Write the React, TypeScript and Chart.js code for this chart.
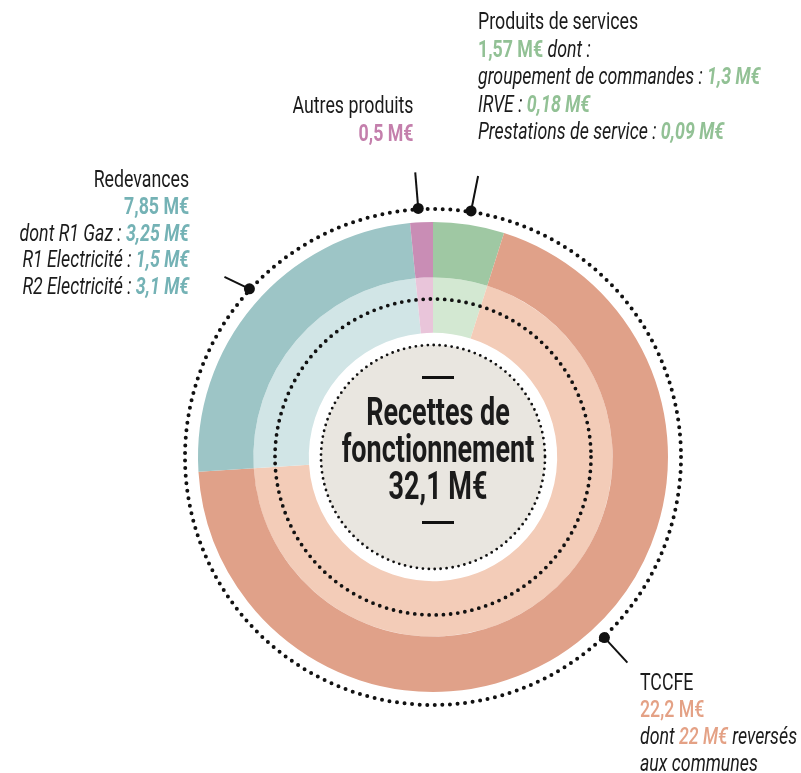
import React, { useEffect, useRef } from "react";
import { Chart, registerables } from "chart.js";

Chart.register(...registerables);

const categories = ["Produits de services", "TCCFE", "Redevances", "Autres produits"];
const values = [1.57, 22.2, 7.85, 0.5];
const outerColors = ["#9fc8a3", "#e0a189", "#9dc5c6", "#c98db5"];
const innerColors = ["#d3e8d2", "#f3ccb8", "#d1e5e6", "#e9c5da"];
// leader annotations: angle (deg clockwise from top) and end offset
const leaderAngles = [8.8, 136.5, 312.5, 356.6];
const leaderEnds = [[7, -35], [23, 25], [-25, -12], [-3, -36]];

const FONT = "Roboto, 'DejaVu Sans', sans-serif";
const SX = 0.74;

const decorPlugin = {
  id: "decor",
  afterDraw(chart: any) {
    const arc = chart.getDatasetMeta(0).data[0];
    if (!arc) return;
    const cx = arc.x;
    const cy = arc.y;
    const R = arc.outerRadius;
    const ctx = chart.ctx;
    ctx.save();
    const dotted = (r: number, w: number, gap: number) => {
      ctx.beginPath();
      ctx.setLineDash([0, gap]);
      ctx.lineCap = "round";
      ctx.lineWidth = w;
      ctx.strokeStyle = "#111";
      ctx.arc(cx, cy, r, 0, Math.PI * 2);
      ctx.stroke();
    };
    dotted(R + 13, 4, 7.6);
    dotted(R - 77, 3.8, 7.2);
    ctx.setLineDash([]);
    ctx.beginPath();
    ctx.fillStyle = "#e9e6e0";
    ctx.arc(cx, cy, R - 123, 0, Math.PI * 2);
    ctx.fill();
    dotted(R - 123, 2.8, 6);
    ctx.setLineDash([]);
    const rl = R + 14;
    leaderAngles.forEach((a, i) => {
      const t = (a * Math.PI) / 180;
      const x = cx + rl * Math.sin(t);
      const y = cy - rl * Math.cos(t);
      ctx.beginPath();
      ctx.strokeStyle = "#111";
      ctx.lineWidth = 2;
      ctx.lineCap = "butt";
      ctx.moveTo(x, y);
      ctx.lineTo(x + leaderEnds[i][0], y + leaderEnds[i][1]);
      ctx.stroke();
      ctx.beginPath();
      ctx.fillStyle = "#111";
      ctx.arc(x, y, 5.5, 0, Math.PI * 2);
      ctx.fill();
    });
    ctx.restore();
  },
};

const base: React.CSSProperties = {
  position: "absolute",
  fontFamily: FONT,
  fontSize: 24,
  color: "#1b1b1b",
  whiteSpace: "nowrap",
};

const V = ({ c, children, w }: { c: string; children: any; w?: number }) => (
  <span style={{ color: c, fontWeight: w ?? 700 }}>{children}</span>
);

export default function App() {
  const ref = useRef<HTMLCanvasElement | null>(null);
  useEffect(() => {
    if (!ref.current) return;
    const chart = new Chart(ref.current, {
      type: "doughnut",
      data: {
        labels: categories,
        datasets: [
          { data: values, backgroundColor: outerColors, borderWidth: 0 },
          { data: values, backgroundColor: innerColors, borderWidth: 0 },
        ],
      },
      options: {
        responsive: false,
        animation: false,
        radius: 235,
        cutout: 167,
        layout: { padding: { left: 65, right: 0, top: 141, bottom: 0 } },
        plugins: { legend: { display: false }, tooltip: { enabled: false } },
      } as any,
      plugins: [decorPlugin],
    });
    return () => chart.destroy();
  }, []);

  const teal = "#74b2b5";
  const green = "#92c195";
  const pink = "#c47fac";
  const orange = "#e4a185";

  const left = (x: number): React.CSSProperties => ({ left: x, transform: `scaleX(${SX})`, transformOrigin: "0 0" });
  const right = (x: number): React.CSSProperties => ({
    right: 801 - x,
    textAlign: "right",
    transform: `scaleX(${SX})`,
    transformOrigin: "100% 0",
  });

  return (
    <div style={{ position: "fixed", left: 0, top: 0, width: 801, height: 773, background: "#fff", overflow: "hidden" }}>
      <canvas ref={ref} width={801} height={773} style={{ position: "absolute", left: 0, top: 0 }} />

      <div style={{ ...base, ...left(478), top: 8, lineHeight: "27.5px" }}>
        <div>Produits de services</div>
        <div style={{ fontStyle: "italic" }}>
          <V c={green}>
            <span style={{ fontStyle: "normal" }}>1,57 M€</span>
          </V>{" "}
          dont :
        </div>
        <div style={{ fontStyle: "italic" }}>
          groupement de commandes : <V c={green}>1,3 M€</V>
        </div>
        <div style={{ fontStyle: "italic" }}>
          IRVE : <V c={green}>0,18 M€</V>
        </div>
        <div style={{ fontStyle: "italic" }}>
          Prestations de service : <V c={green}>0,09 M€</V>
        </div>
      </div>

      <div style={{ ...base, ...right(413), top: 91, lineHeight: "28px" }}>
        <div>Autres produits</div>
        <div>
          <V c={pink}>0,5 M€</V>
        </div>
      </div>

      <div style={{ ...base, ...right(189), top: 166, lineHeight: "26.8px" }}>
        <div>Redevances</div>
        <div>
          <V c={teal}>7,85 M€</V>
        </div>
        <div style={{ fontStyle: "italic" }}>
          dont R1 Gaz : <V c={teal}>3,25 M€</V>
        </div>
        <div style={{ fontStyle: "italic" }}>
          R1 Electricité : <V c={teal}>1,5 M€</V>
        </div>
        <div style={{ fontStyle: "italic" }}>
          R2 Electricité : <V c={teal}>3,1 M€</V>
        </div>
      </div>

      <div style={{ ...base, ...left(640), top: 669, lineHeight: "27px" }}>
        <div>TCCFE</div>
        <div>
          <V c={orange} w={500}>22,2 M€</V>
        </div>
        <div style={{ fontStyle: "italic" }}>
          dont <V c={orange} w={500}>22 M€</V> reversés
        </div>
        <div style={{ fontStyle: "italic" }}>aux communes</div>
      </div>

      <div style={{ position: "absolute", left: 422, top: 376, width: 32, height: 3, background: "#111" }} />
      <div style={{ position: "absolute", left: 422, top: 521, width: 32, height: 3, background: "#111" }} />
      <div
        style={{
          ...base,
          left: 288,
          width: 300,
          top: 394,
          fontSize: 38,
          fontWeight: 700,
          lineHeight: "37px",
          textAlign: "center",
          transform: "scaleX(0.71)",
          transformOrigin: "150px 0",
        }}
      >
        <div>Recettes de</div>
        <div>fonctionnement</div>
        <div>32,1 M€</div>
      </div>
    </div>
  );
}
